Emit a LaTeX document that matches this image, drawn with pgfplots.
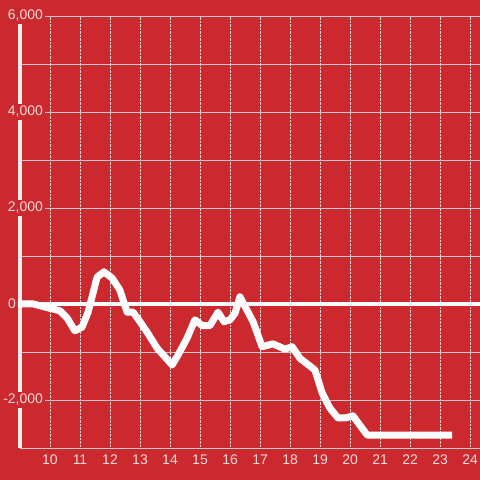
\documentclass[border=0pt]{standalone}
\usepackage{fontspec}
\setmainfont{Liberation Sans}
\usepackage{pgfplots}
\pgfplotsset{compat=1.18}
\definecolor{bgred}{RGB}{204,41,46}
\definecolor{gridgray}{RGB}{200,200,200}
\definecolor{dotgray}{RGB}{230,215,215}
\definecolor{lblpink}{RGB}{247,218,218}
\definecolor{axwhite}{RGB}{240,236,236}

\pgfplotsset{
  layers/labels on top/.define layer set={
    axis background, axis grid, axis ticks, axis lines, main,
    axis tick labels, axis descriptions, axis foreground
  }{/pgfplots/layers/standard},
}

\begin{document}
\begin{tikzpicture}
\begin{axis}[
    set layers=labels on top,
    scale only axis,
    width=460bp, height=432bp,
    xmin=9, xmax=24.333,
    ymin=-3000, ymax=6000,
    axis x line=bottom, axis y line=left,
    axis line style={-},
    x axis line style={draw=gridgray, line width=0.8bp},
    y axis line style={draw=axwhite, line width=3bp},
    xtick={10,...,24},
    ytick={-2000,2000,4000,6000},
    minor ytick={-3000,-1000,1000,3000,5000},
    extra y ticks={0},
    extra y tick style={yticklabel style={fill=none, xshift=-27bp}},
    major tick length=0pt, minor tick length=0pt,
    xmajorgrids, ymajorgrids, yminorgrids,
    x grid style={dotgray, densely dotted, line width=0.8bp},
    y grid style={gridgray, line width=0.8bp},
    minor y grid style={gridgray, line width=0.8bp},
    tick label style={font=\fontsize{14}{16}\selectfont, text=lblpink},
    /pgf/number format/assume math mode=true,
    /pgf/number format/1000 sep={,},
    yticklabel style={anchor=east, fill=bgred, inner sep=2bp, xshift=25bp},
    xticklabel style={yshift=-3bp},
    clip=false,
]
\begin{pgfonlayer}{axis background}
\fill[bgred] (axis cs:8.3333,-3666.67) rectangle (axis cs:24.3333,6333.33);
\end{pgfonlayer}
\addplot[white, line width=4bp] coordinates {(8.93,0) (24.333,0)};
\addplot[white, line width=7bp, line join=round] coordinates {
(8.93,0) (9.45,0) (10,-90) (10.33,-140) (10.57,-290) (10.83,-560) (11.07,-480)
(11.27,-170) (11.57,560) (11.8,670) (12.07,540) (12.33,290) (12.57,-170)
(12.77,-170) (13,-370) (13.23,-580) (13.57,-920) (13.77,-1060) (14.07,-1270)
(14.27,-1060) (14.57,-710) (14.83,-330) (15.07,-450) (15.33,-450) (15.6,-170)
(15.8,-370) (16,-330) (16.17,-190) (16.33,150) (16.77,-370) (17.07,-890)
(17.43,-830) (17.83,-940) (18.07,-890) (18.33,-1130) (18.83,-1375) (19.07,-1850)
(19.33,-2170) (19.6,-2375) (19.83,-2375) (20.1,-2330) (20.57,-2730) (23.4,-2730)
};
\end{axis}
\pgfresetboundingbox
\useasboundingbox (-20bp,-32bp) rectangle (460bp,448bp);
\end{tikzpicture}
\end{document}
